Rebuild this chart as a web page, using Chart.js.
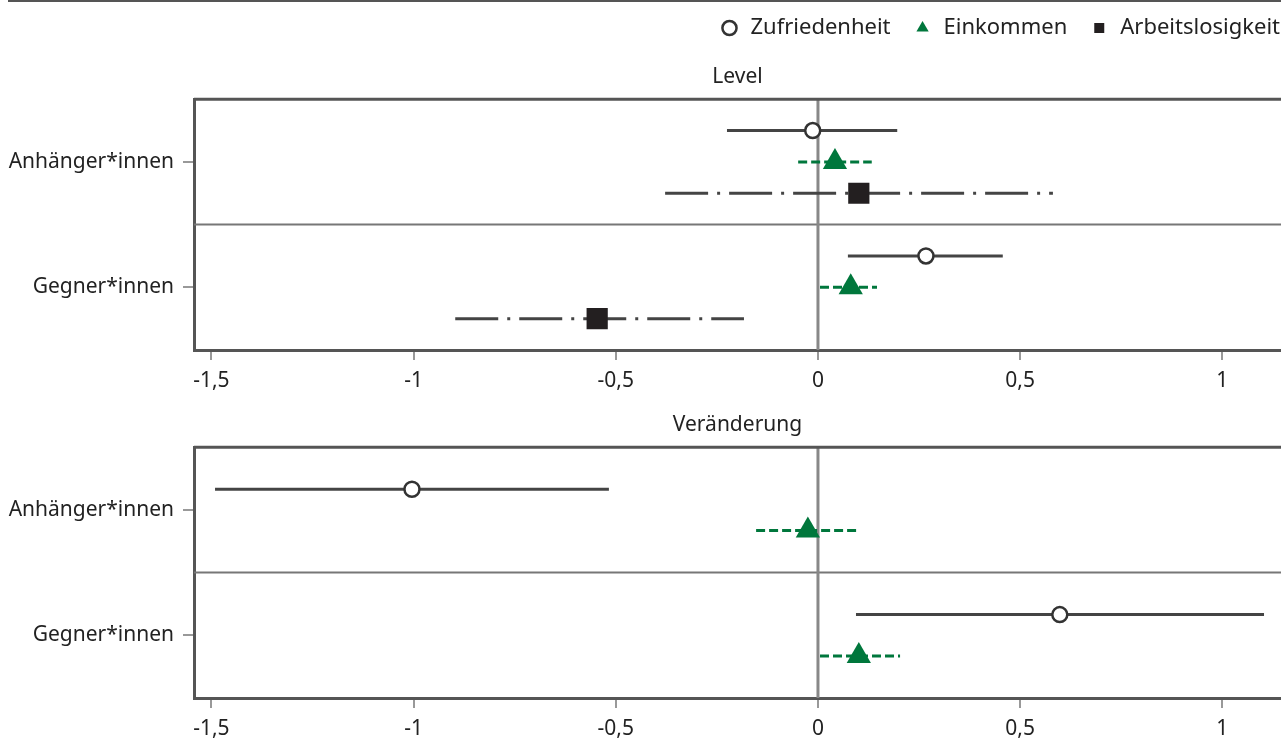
<!DOCTYPE html>
<html>
<head>
<meta charset="utf-8">
<script src="https://cdn.jsdelivr.net/npm/chart.js@4.4.1/dist/chart.umd.min.js"></script>
<style>
    body { margin: 0; background: white; overflow: hidden; }
    #topline { position: absolute; left: 8px; top: 0; width: 1273px; height: 2px; background: #555; }
    #c1 { position: absolute; left: 0; top: 0; }
    #c2 { position: absolute; left: 0; top: 400px; }
</style>
</head>
<body>
<div id="topline"></div>
<canvas id="c1" width="1281" height="400"></canvas>
<canvas id="c2" width="1281" height="338"></canvas>
<script>
const categories = ['Anhänger*innen', 'Gegner*innen'];
const xTicks = [-1.5, -1, -0.5, 0, 0.5, 1];
const xMin = -1.543;
const xMax = 1.145;

// Level: estimate, lower and upper bound
const levelZufEst = [-0.013, 0.267];
const levelZufLo = [-0.225, 0.074];
const levelZufHi = [0.196, 0.457];
const levelEinEst = [0.042, 0.081];
const levelEinLo = [-0.049, 0.005];
const levelEinHi = [0.133, 0.146];
const levelArbEst = [0.101, -0.546];
const levelArbLo = [-0.378, -0.897];
const levelArbHi = [0.581, -0.183];

// Veränderung
const chgZufEst = [-1.004, 0.598];
const chgZufLo = [-1.491, 0.094];
const chgZufHi = [-0.517, 1.103];
const chgEinEst = [-0.025, 0.101];
const chgEinLo = [-0.153, 0.005];
const chgEinHi = [0.099, 0.203];

const FONT = 'Noto Sans';
const TEXT = '#222';
const GREEN = '#00773c';
const DARK = '#444';

const styles = {
    zuf: { label: 'Zufriedenheit', pointStyle: 'circle', radius: 7.5, bg: 'white', border: '#333', bw: 2.5, line: DARK, dash: [] },
    ein: { label: 'Einkommen', pointStyle: 'triangle', radius: 14, bg: GREEN, border: GREEN, bw: 0, line: GREEN, dash: [9, 4] },
    arb: { label: 'Arbeitslosigkeit', pointStyle: 'rect', radius: 15, bg: '#231f20', border: '#231f20', bw: 0, line: DARK, dash: [43, 9, 3, 9] },
};

function buildDatasets(series) {
    const sets = [];
    series.forEach(s => {
        const st = styles[s.key];
        s.est.forEach((v, i) => {
            sets.push({
                type: 'line',
                data: [{ x: s.lo[i], y: i + s.off }, { x: s.hi[i], y: i + s.off }],
                borderColor: st.line,
                borderWidth: 3,
                borderDash: st.dash,
                pointRadius: 0,
                order: 2,
                isCI: true,
            });
        });
        sets.push({
            label: st.label,
            data: s.est.map((v, i) => ({ x: v, y: i + s.off })),
            pointStyle: st.pointStyle,
            pointRadius: st.radius,
            pointHoverRadius: st.radius,
            backgroundColor: st.bg,
            borderColor: st.border,
            borderWidth: st.bw,
            order: 1,
        });
    });
    return sets;
}

const framePlugin = {
    id: 'frame',
    afterLayout(chart) {
        // legend sits flush with the right edge
        if (chart.legend && chart.options.plugins.legend.display) {
            chart.legend.left += 21;
            chart.legend.right += 21;
        }
    },
    beforeDatasetsDraw(chart) {
        const { ctx, chartArea, scales } = chart;
        ctx.save();
        // separator between the groups
        ctx.strokeStyle = '#777';
        ctx.lineWidth = 2;
        const ySep = scales.y.getPixelForValue(0.5);
        ctx.beginPath();
        ctx.moveTo(chartArea.left, ySep);
        ctx.lineTo(chartArea.right, ySep);
        ctx.stroke();
        // zero line
        ctx.strokeStyle = '#888';
        ctx.lineWidth = 3;
        const x0 = scales.x.getPixelForValue(0);
        ctx.beginPath();
        ctx.moveTo(x0, chartArea.top);
        ctx.lineTo(x0, chartArea.bottom);
        ctx.stroke();
        // top border of the box
        ctx.strokeStyle = '#555';
        ctx.lineWidth = 3;
        ctx.beginPath();
        ctx.moveTo(chartArea.left, chartArea.top);
        ctx.lineTo(chartArea.right, chartArea.top);
        ctx.stroke();
        ctx.restore();
    }
};

function makeOptions(title, showLegend, xHeight, topPad, titlePad) {
    return {
        responsive: false,
        animation: false,
        layout: { autoPadding: false, padding: { top: topPad, left: 0, right: 0, bottom: 0 } },
        plugins: {
            legend: {
                display: showLegend,
                align: 'end',
                weight: 3000,
                labels: {
                    usePointStyle: true,
                    boxHeight: 10,
                    boxWidth: 20,
                    padding: 22,
                    color: TEXT,
                    font: { family: FONT, size: 22 },
                    filter: (item, data) => !data.datasets[item.datasetIndex].isCI,
                }
            },
            title: {
                display: true,
                text: title,
                fullSize: false,
                color: TEXT,
                font: { family: FONT, size: 21, weight: 'normal' },
                padding: titlePad,
            },
            tooltip: { enabled: false },
        },
        scales: {
            x: {
                type: 'linear',
                min: xMin,
                max: xMax,
                afterBuildTicks: scale => { scale.ticks = xTicks.map(v => ({ value: v })); },
                afterFit: scale => {
                    scale.height = xHeight;
                    scale.paddingLeft = 0;
                    scale.paddingRight = 0;
                },
                ticks: {
                    color: TEXT,
                    font: { family: FONT, size: 21 },
                    padding: 8,
                    callback: v => String(v).replace('.', ','),
                },
                grid: { drawOnChartArea: false, tickLength: 10, color: '#999', lineWidth: 2 },
                border: { color: '#555', width: 3 },
            },
            y: {
                type: 'linear',
                reverse: true,
                min: -0.5,
                max: 1.5,
                afterBuildTicks: scale => { scale.ticks = categories.map((c, i) => ({ value: i })); },
                afterFit: scale => { scale.width = 194; },
                ticks: {
                    color: TEXT,
                    font: { family: FONT, size: 21 },
                    padding: 9,
                    callback: v => categories[v],
                },
                grid: { drawOnChartArea: false, tickLength: 11, color: '#999', lineWidth: 2 },
                border: { color: '#555', width: 3 },
            }
        }
    };
}

const levelChart = new Chart(document.getElementById('c1'), {
    type: 'scatter',
    data: {
        datasets: buildDatasets([
            { key: 'zuf', est: levelZufEst, lo: levelZufLo, hi: levelZufHi, off: -0.25 },
            { key: 'ein', est: levelEinEst, lo: levelEinLo, hi: levelEinHi, off: 0 },
            { key: 'arb', est: levelArbEst, lo: levelArbLo, hi: levelArbHi, off: 0.25 },
        ])
    },
    options: makeOptions('Level', true, 50, -5, { top: 15, bottom: 10 }),
    plugins: [framePlugin],
});

const changeChart = new Chart(document.getElementById('c2'), {
    type: 'scatter',
    data: {
        datasets: buildDatasets([
            { key: 'zuf', est: chgZufEst, lo: chgZufLo, hi: chgZufHi, off: -0.165 },
            { key: 'ein', est: chgEinEst, lo: chgEinLo, hi: chgEinHi, off: 0.165 },
        ])
    },
    options: makeOptions('Veränderung', false, 40, 12, { top: 0, bottom: 10 }),
    plugins: [framePlugin],
});
</script>
</body>
</html>
